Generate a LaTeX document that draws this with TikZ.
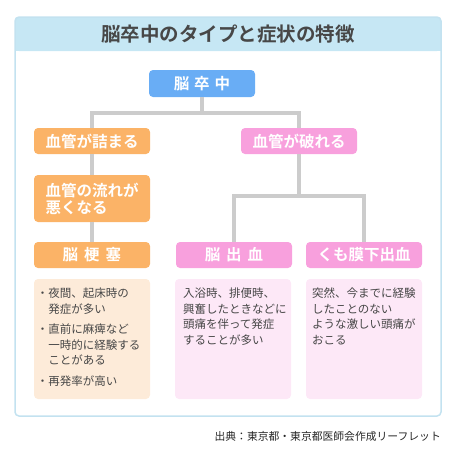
\documentclass[tikz,border=0pt]{standalone}
\usepackage{fontspec}
\newfontfamily\jp[BoldFont={Noto Sans CJK JP Bold}]{Noto Sans CJK JP}
\definecolor{hdrB}{HTML}{C6E7F4}
\definecolor{frameB}{HTML}{C3E2F0}
\definecolor{topB}{HTML}{69ADF5}
\definecolor{orgN}{HTML}{FBB367}
\definecolor{pnkN}{HTML}{F8A0DD}
\definecolor{orgL}{HTML}{FDEBD9}
\definecolor{pnkL}{HTML}{FDE8F7}
\definecolor{lineG}{HTML}{CCCCCC}
\definecolor{txtG}{HTML}{474747}

\begin{document}
\begin{tikzpicture}[x=1pt,y=-1pt,
    conn/.style={line width=3.5pt, draw=lineG},
    head/.style={rounded corners=4pt, minimum width=116pt, minimum height=26pt, inner sep=0pt,
        text=white, font=\jp\bfseries\fontsize{15.5}{17}\selectfont},
    descbox/.style={rounded corners=4pt, minimum width=116pt, minimum height=120pt, inner sep=0pt},
    desc/.style={anchor=north west, align=left, inner sep=0pt, text=txtG,
        font=\jp\fontsize{11.5}{15.5}\selectfont}]
    \useasboundingbox (0,0) rectangle (456,456);

    % 外框与标题栏
    \fill[hdrB, rounded corners=4pt] (15,17) rectangle (441,51);
    \fill[hdrB] (15,40) rectangle (441,51);
    \draw[frameB, line width=1.5pt, rounded corners=4pt] (15,17) rectangle (441,416);
    \node[text=txtG, font=\jp\bfseries\fontsize{19.5}{21}\selectfont] (title) at (228,34) {脳卒中のタイプと症状の特徴};

    % 分类节点
    \node[head, fill=topB, minimum width=106pt, minimum height=27pt] (stroke) at (202,83.5) {脳\hspace{5pt}卒\hspace{5pt}中};
    \node[head, fill=orgN] (clog) at (92,141) {血管が詰まる};
    \node[head, fill=pnkN] (burst) at (299,141) {血管が破れる};
    \node[head, fill=orgN, minimum height=47pt, align=left, font=\jp\bfseries\fontsize{15.5}{17}\selectfont] (flow) at (92,198.5) {血管の流れが\\悪くなる};
    \node[head, fill=orgN] (infarct) at (92,255) {脳\hspace{6pt}梗\hspace{6pt}塞};
    \node[head, fill=pnkN] (hemo) at (234,255) {脳\hspace{6pt}出\hspace{6pt}血};
    \node[head, fill=pnkN] (subar) at (364,255) {くも膜下出血};

    % 连接线
    \draw[conn] (stroke.south) -- ([yshift=-16pt]stroke.south) -| (clog.north);
    \draw[conn] (stroke.south) -- ([yshift=-16pt]stroke.south) -| (burst.north);
    \draw[conn] (clog) -- (flow);
    \draw[conn] (flow) -- (infarct);
    \draw[conn] (burst.south) -- ([yshift=-42pt]burst.south) -| (hemo.north);
    \draw[conn] (burst.south) -- ([yshift=-42pt]burst.south) -| (subar.north);

    % 症状说明
    \node[descbox, fill=orgL] (infarctD) at (92,339) {};
    \node[descbox, fill=pnkL] (hemoD) at (233,339) {};
    \node[descbox, fill=pnkL] (subarD) at (364,339) {};
    \node[desc] (infarctT) at ([shift={(3,9)}]infarctD.north west)
        {・夜間、起床時の\\\hspace*{1em}発症が多い\\[5pt]
         ・直前に麻痺など\\\hspace*{1em}一時的に経験する\\\hspace*{1em}ことがある\\[5pt]
         ・再発率が高い};
    \node[desc] (hemoT) at ([shift={(8,9)}]hemoD.north west)
        {入浴時、排便時、\\興奮したときなどに\\頭痛を伴って発症\\することが多い};
    \node[desc] (subarT) at ([shift={(6,9)}]subarD.north west)
        {突然、今までに経験\\したことのない\\ような激しい頭痛が\\おこる};

    % 出典
    \node[anchor=east, inner sep=0pt, text=black!85, font=\jp\fontsize{10.8}{12}\selectfont] (source) at (441,436) {出典：東京都・東京都医師会作成リーフレット};
\end{tikzpicture}
\end{document}
